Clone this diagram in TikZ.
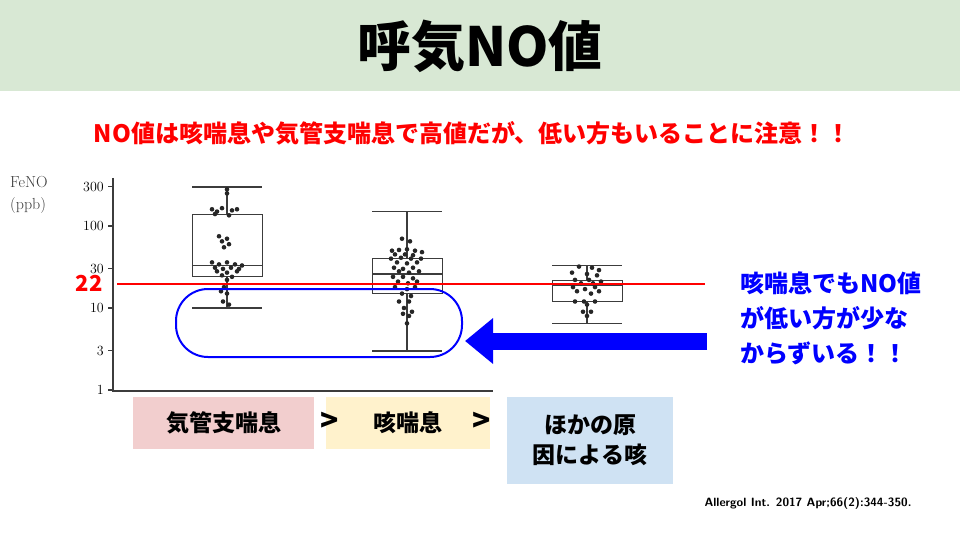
\documentclass[tikz,border=0pt]{standalone}
\usepackage{fontspec}
\usepackage{tikz}
\usetikzlibrary{arrows.meta}
\newfontfamily\jp{Noto Sans CJK JP}
\definecolor{titlegreen}{RGB}{216,232,212}
\definecolor{catpink}{RGB}{242,206,206}
\definecolor{catyellow}{RGB}{255,242,204}
\definecolor{catblue}{RGB}{207,226,243}
\definecolor{boxgray}{RGB}{60,60,60}
\tikzset{
  whisk/.style={line width=1.6pt, boxgray},
  dot/.style={fill=black!85},
  cat/.style={font=\jp\bfseries\fontsize{23}{30}\selectfont, align=center}
}
\begin{document}
\begin{tikzpicture}[x=1pt,y=-1pt]
\useasboundingbox (0,0) rectangle (960,540);
\fill[titlegreen] (0,0) rectangle (960,91);
\node (title) at (480,46) {\jp\bfseries\fontsize{54}{58}\selectfont 呼気NO値};
\node[red] (note) at (472,133) {\jp\bfseries\fontsize{24}{28}\selectfont NO値は咳喘息や気管支喘息で高値だが、低い方もいることに注意！！};
% axes
\draw[line width=1.8pt, boxgray] (113,178) -- (113,391) -- (493,391);
\foreach \v/\t in {300/300,100/100,30/30,10/10,3/3,1/1}{
  \pgfmathsetmacro{\yy}{390-82*log10(\v)}
  \draw[line width=1.2pt, boxgray] (108,\yy) -- (113,\yy);
  \node[anchor=east, font=\fontsize{14}{16}\selectfont, inner sep=1pt] at (105,\yy) {\t};
}
\node[anchor=north west, align=left, font=\fontsize{16}{22}\selectfont, boxgray, inner sep=0pt] (ylab) at (10,176) {FeNO\\(ppb)};
% boxes: center, whisker lo/hi, q1/q3/median
\foreach \cx/\lo/\hi/\qa/\qb/\md in {227/10/300/24/140/33, 407/3/150/15/40/26, 587/6.5/33/12/22/19}{
  \pgfmathsetmacro{\ylo}{390-82*log10(\lo)}
  \pgfmathsetmacro{\yhi}{390-82*log10(\hi)}
  \pgfmathsetmacro{\yqa}{390-82*log10(\qa)}
  \pgfmathsetmacro{\yqb}{390-82*log10(\qb)}
  \pgfmathsetmacro{\ymd}{390-82*log10(\md)}
  \draw[whisk] (\cx,\ylo) -- (\cx,\yhi);
  \draw[whisk] (\cx-35,\ylo) -- (\cx+35,\ylo);
  \draw[whisk] (\cx-35,\yhi) -- (\cx+35,\yhi);
  \draw[line width=0.8pt, boxgray, fill=white] (\cx-35,\yqa) rectangle (\cx+35,\yqb);
  \draw[whisk] (\cx-35,\ymd) -- (\cx+35,\ymd);
}
% data points
\foreach \dx/\v in {0/280,0/250,-15/160,-10/150,-5/165,5/155,10/160,-12/140,2/135,-8/75,0/70,-5/65,2/60,-3/55,-15/36,-8/34,0/36,8/34,15/33,-12/31,-4/30,4/31,12/30,-10/28,0/27,10/28,-5/25,5/24,0/22,-3/18,-6/16,0/15,-4/12,2/11}
  \fill[dot] (227+\dx,{390-82*log10(\v)}) circle (2.3);
\foreach \dx/\v in {-5/70,3/65,-15/50,-8/51,0/52,8/50,15/48,-12/45,-2/45,6/44,-16/40,-6/41,4/40,14/40,-10/36,0/35,10/36,-13/31,-4/30,6/31,-8/28,2/27,12/28,-14/24,-4/24,6/23,-9/21,1/20,10/21,-12/18,0/17,8/18,-5/15,4/14,-8/12,2/12,-3/10,5/9,-4/8.5,2/8,0/6.5}
  \fill[dot] (407+\dx,{390-82*log10(\v)}) circle (2.3);
\foreach \dx/\v in {-8/32,5/31,12/29,-15/27,0/26,10/25,-12/22,2/22,14/21,-6/20,6/20,-14/18,-2/17,8/18,-10/16,4/15,12/16,-12/12,-3/12,8/12,0/11,-4/9,4/9,0/8}
  \fill[dot] (587+\dx,{390-82*log10(\v)}) circle (2.3);
% threshold
\draw[red, line width=2pt] (117,284) -- (705,284);
\node[red, font=\jp\bfseries\fontsize{22}{24}\selectfont] (cut) at (89,283) {22};
\draw[blue, line width=2pt, rounded corners=32pt] (176,289) rectangle (462,357) node (oval) {};
\coordinate (arrtail) at (707,341);
\coordinate (arrhead) at (465,341);
\draw[blue, line width=17pt, -{Triangle[length=28pt,width=44pt]}] (arrtail) -- (arrhead);
\node[blue, align=left, font=\jp\bfseries\fontsize{24}{35}\selectfont] (comment) at (831,318) {咳喘息でもNO値\\が低い方が少な\\からずいる！！};
% categories
\fill[catpink] (133,397) rectangle (314,449);
\node[cat] (c1) at (224,423) {気管支喘息};
\fill[catyellow] (326,397) rectangle (490,449);
\node[cat] (c2) at (408,423) {咳喘息};
\fill[catblue] (507,397) rectangle (673,484);
\node[cat] (c3) at (590,440) {ほかの原\\因による咳};
\node[font=\jp\bfseries\fontsize{30}{32}\selectfont] (gt1) at (330,422) {>};
\node[font=\jp\bfseries\fontsize{30}{32}\selectfont] (gt2) at (482,422) {>};
\node[font=\sffamily\bfseries\fontsize{12}{14}\selectfont] (ref) at (808,503) {Allergol Int. 2017 Apr;66(2):344-350.};
\end{tikzpicture}
\end{document}
